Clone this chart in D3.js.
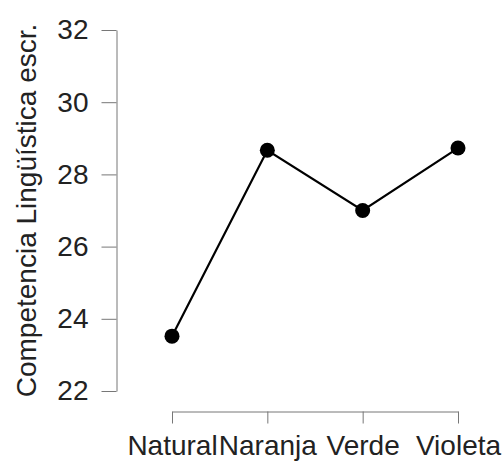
<!DOCTYPE html>
<html>
<head>
<meta charset="utf-8">
<script src="https://cdn.jsdelivr.net/npm/d3@7"></script>
<style>
	body { margin: 0; background: #fff; }
	svg { display: block; font-family: "Liberation Sans", Arial, sans-serif; }
</style>
</head>
<body>
<svg id="chart" width="504" height="461"></svg>
<script>
// values
let categories = ["Natural", "Naranja", "Verde", "Violeta"];
let values = [23.52, 28.67, 27.0, 28.73];
let yTicks = [22, 24, 26, 28, 30, 32];
let yLabel = "Competencia Lingüística escr.";

let svg = d3.select("#chart");

let xScale = d3.scalePoint()
	.domain(categories)
	.range([172, 458]);

let yScale = d3.scaleLinear()
	.domain([22, 32])
	.range([391, 30]);

// y axis
let yAxis = svg.append("g")
	.attr("transform", "translate(116.5,0)")
	.call(d3.axisLeft(yScale).tickValues(yTicks).tickSize(15).tickSizeOuter(0).tickPadding(13));
yAxis.select(".domain").attr("stroke", "#777");
yAxis.selectAll(".tick line").attr("stroke", "#777");
yAxis.selectAll(".tick text")
	.attr("font-size", "28px")
	.attr("fill", "#222")
	.attr("font-family", "Liberation Sans, Arial, sans-serif");

// x axis
let xAxis = svg.append("g")
	.attr("transform", "translate(0,411.5)")
	.call(d3.axisBottom(xScale).tickSize(12).tickSizeOuter(0));
xAxis.select(".domain").attr("stroke", "#777");
xAxis.selectAll(".tick line").attr("stroke", "#777");
xAxis.selectAll(".tick text")
	.attr("font-size", "28px")
	.attr("fill", "#222")
	.attr("font-family", "Liberation Sans, Arial, sans-serif")
	.attr("y", 43.5)
	.attr("dy", null);

// y label
svg.append("text")
	.attr("transform", "translate(36," + (yScale(27)) + ") rotate(-90)")
	.attr("text-anchor", "middle")
	.attr("font-size", "28px")
	.attr("fill", "#222")
	.text(yLabel);

// line + points
let line = d3.line()
	.x(function(d, i) { return xScale(categories[i]); })
	.y(function(d) { return yScale(d); });

svg.append("path")
	.datum(values)
	.attr("d", line)
	.attr("fill", "none")
	.attr("stroke", "#000")
	.attr("stroke-width", 2.2);

svg.selectAll("circle")
	.data(values)
	.enter()
	.append("circle")
	.attr("cx", function(d, i) { return xScale(categories[i]); })
	.attr("cy", function(d) { return yScale(d); })
	.attr("r", 7.5)
	.attr("fill", "#000");
</script>
</body>
</html>
